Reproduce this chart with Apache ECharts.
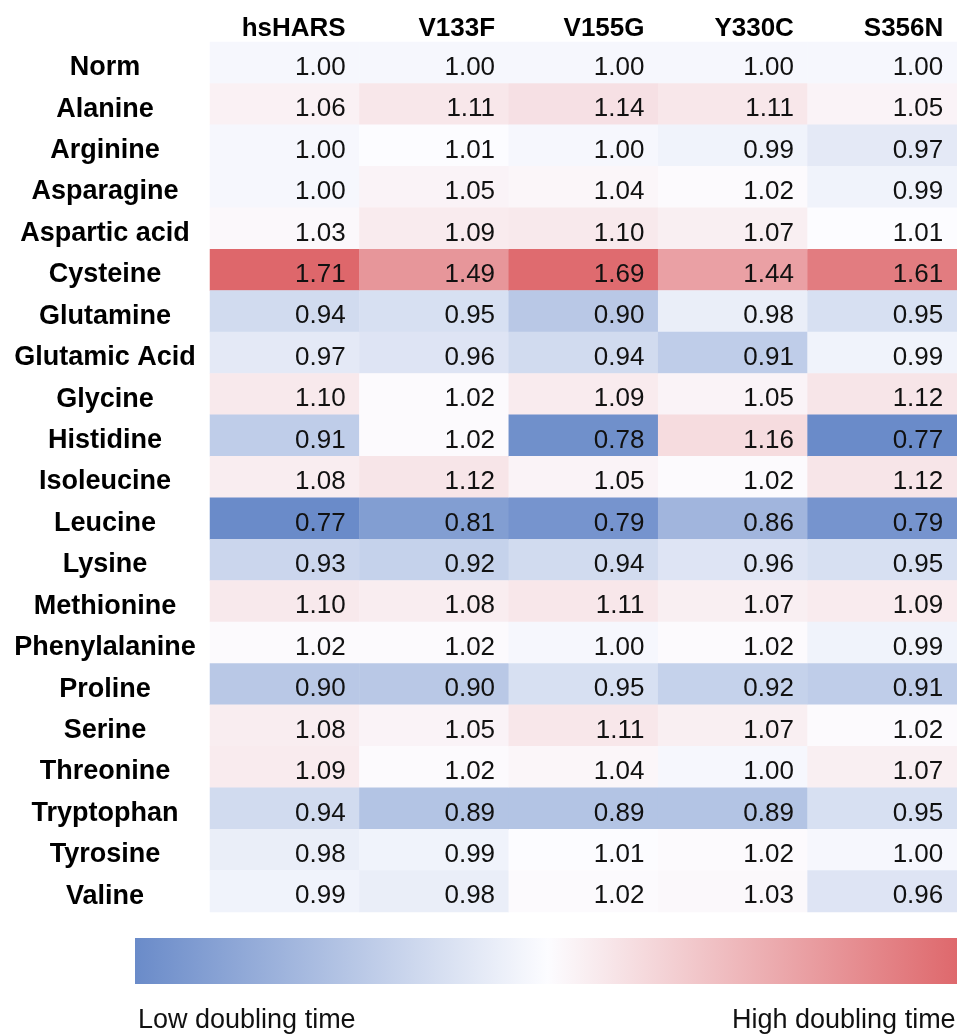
<!DOCTYPE html>
<html>
<head>
<meta charset="utf-8">
<script src="https://cdn.jsdelivr.net/npm/echarts@6/dist/echarts.min.js"></script>
<style>html,body{margin:0;padding:0;background:#fff;}#c{width:957px;height:1034px;}</style>
</head>
<body>
<div id="c"></div>
<script>
const columns = ['hsHARS', 'V133F', 'V155G', 'Y330C', 'S356N'];
const rows = ['Norm','Alanine','Arginine','Asparagine','Aspartic acid','Cysteine','Glutamine','Glutamic Acid','Glycine','Histidine','Isoleucine','Leucine','Lysine','Methionine','Phenylalanine','Proline','Serine','Threonine','Tryptophan','Tyrosine','Valine'];
const hsHARS = [1.00,1.06,1.00,1.00,1.03,1.71,0.94,0.97,1.10,0.91,1.08,0.77,0.93,1.10,1.02,0.90,1.08,1.09,0.94,0.98,0.99];
const V133F  = [1.00,1.11,1.01,1.05,1.09,1.49,0.95,0.96,1.02,1.02,1.12,0.81,0.92,1.08,1.02,0.90,1.05,1.02,0.89,0.99,0.98];
const V155G  = [1.00,1.14,1.00,1.04,1.10,1.69,0.90,0.94,1.09,0.78,1.05,0.79,0.94,1.11,1.00,0.95,1.11,1.04,0.89,1.01,1.02];
const Y330C  = [1.00,1.11,0.99,1.02,1.07,1.44,0.98,0.91,1.05,1.16,1.02,0.86,0.96,1.07,1.02,0.92,1.07,1.00,0.89,1.02,1.03];
const S356N  = [1.00,1.05,0.97,0.99,1.01,1.61,0.95,0.99,1.12,0.77,1.12,0.79,0.95,1.09,0.99,0.91,1.02,1.07,0.95,1.00,0.96];
const legendLow = 'Low doubling time';
const legendHigh = 'High doubling time';

const seriesCols = [hsHARS, V133F, V155G, Y330C, S356N];
const allVals = seriesCols.flat();
const vMin = Math.min(...allVals), vMax = Math.max(...allVals), vMid = 1.01;
const cLow = [106,139,201], cMid = [252,252,255], cHigh = [222,103,107];
function mix(a,b,t){return 'rgb('+a.map((v,i)=>Math.round(v+(b[i]-v)*t)).join(',')+')';}
function colorFor(v){
  if (v <= vMid) return mix(cMid, cLow, (vMid - v) / (vMid - vMin));
  return mix(cMid, cHigh, (v - vMid) / (vMax - vMid));
}
const data = [];
seriesCols.forEach((col, ci) => col.forEach((v, ri) => {
  data.push({value: [ci, ri, v], itemStyle: {color: colorFor(v)}});
}));

const FONT = '"Liberation Sans", Arial, Helvetica, sans-serif';
const chart = echarts.init(document.getElementById('c'));
chart.setOption({
  backgroundColor: '#ffffff',
  animation: false,
  grid: {left: 210, top: 42, width: 750, height: 870},
  xAxis: {
    type: 'category', position: 'top', data: columns,
    axisLine: {show: false}, axisTick: {show: false}, splitLine: {show: false},
    axisLabel: {
      interval: 0, margin: 0, width: 150, overflow: 'none',
      formatter: v => '{h|' + v + '}',
      rich: {h: {align: 'right', padding: [0, 14, 0, 0], fontSize: 26, fontWeight: 'bold', color: '#000', fontFamily: FONT}}
    }
  },
  yAxis: {
    type: 'category', inverse: true, data: rows,
    axisLine: {show: false}, axisTick: {show: false}, splitLine: {show: false},
    axisLabel: {interval: 0, align: 'center', verticalAlign: 'top', lineHeight: 10, margin: 105, fontSize: 27, fontWeight: 'bold', color: '#000', fontFamily: FONT}
  },
  series: [{
    type: 'heatmap', data: data,
    itemStyle: {borderWidth: 0},
    label: {
      show: true, position: 'insideRight', distance: 14, offset: [0, 5],
      formatter: p => p.value[2].toFixed(2),
      fontSize: 26, color: '#111', fontFamily: FONT
    },
    emphasis: {disabled: true}
  }],
  graphic: [
    {type: 'rect', shape: {x: 135, y: 938, width: 826, height: 46},
     style: {fill: new echarts.graphic.LinearGradient(0, 0, 1, 0, [
       {offset: 0, color: 'rgb(106,139,201)'},
       {offset: 0.5, color: 'rgb(252,252,255)'},
       {offset: 1, color: 'rgb(222,103,107)'}])}},
    {type: 'text', left: 138, top: 1007, style: {text: legendLow, fontSize: 27, fill: '#111', fontFamily: FONT}},
    {type: 'text', left: 732, top: 1007, style: {text: legendHigh, fontSize: 27, fill: '#111', fontFamily: FONT}}
  ]
});
</script>
</body>
</html>
